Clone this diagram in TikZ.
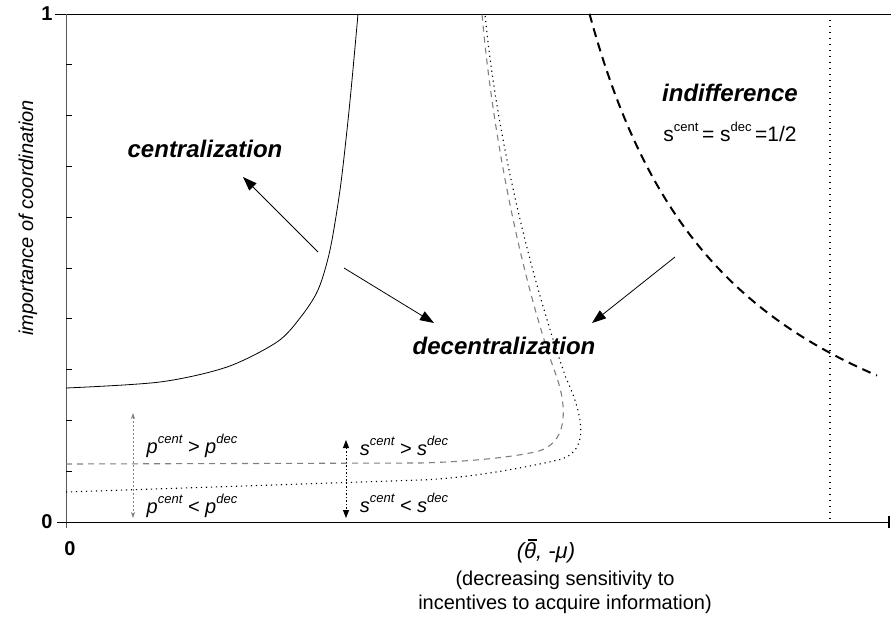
\documentclass[tikz,border=0pt]{standalone}
\usepackage{fontspec}
\setmainfont{Liberation Sans}
\usetikzlibrary{arrows.meta}

% superscript helper and a barred theta
\newcommand\supx[1]{\raisebox{0.5em}{\fontsize{13}{13}\selectfont #1}}
\newcommand\barth{\rlap{\hspace{0.16em}\rule[0.8em]{0.42em}{0.07em}}θ}

\tikzset{
  region/.style={font=\fontsize{24}{28}\selectfont\bfseries\itshape},
  ineq/.style={font=\fontsize{20}{24}\selectfont\itshape},
  axnum/.style={font=\fontsize{20}{24}\selectfont\bfseries},
  note/.style={font=\fontsize{20}{24}\selectfont},
  pointer/.style={-{Triangle[length=14pt,width=10pt]}, line width=0.8pt},
  boundary/.style={line width=0.8pt},
  pband/.style={gray, line width=1.1pt, dash pattern=on 6pt off 5pt},
  sband/.style={line width=1.1pt, dash pattern=on 1.2pt off 3.8pt},
}

\begin{document}
\begin{tikzpicture}[x=1pt,y=-1pt]
\useasboundingbox (0,0) rectangle (891,624);

% frame and axes
\draw[line width=1pt] (55,14) -- (891,14);
\draw[line width=1pt, gray!70!black] (66,14) -- (66,528);
\draw[line width=1pt] (57,522) -- (889,522);
\draw[line width=1.6pt] (889,516) -- (889,528);
\foreach \k in {1,...,9}
  \draw[line width=0.7pt] (66,{14+50.8*\k}) -- (72,{14+50.8*\k});

\node[axnum] (one) at (47,14) {1};
\node[axnum] (zeroy) at (47,522) {0};
\node[axnum] (zerox) at (70,549) {0};
\node[font=\fontsize{20}{24}\selectfont\itshape, rotate=90] (ylab) at (28,218) {importance of coordination};

% centralization boundary
\draw[boundary] plot[smooth] coordinates {(66,388) (160,382) (227,367) (277,342) (300,318) (318,290) (330,250) (340,190) (347,130) (352,80) (358,14)};

% p^cent = p^dec
\draw[pband] (66,464) -- (420,463)
  .. controls (460,462) and (505,458.4) .. (535,452)
  .. controls (568,445) and (568,409) .. (556,375)
  .. controls (525,290) and (494,150) .. (482,14);

% s^cent = s^dec
\draw[sband] (66,492) -- (420,480)
  .. controls (470,478.3) and (530,466.5) .. (558,460)
  .. controls (592,452) and (582,413) .. (566,378)
  .. controls (535,290) and (498,150) .. (485,14);

% indifference boundary
\draw[line width=2pt, dash pattern=on 9pt off 6pt] plot[domain=589.5:877, samples=80] (\x, {522-508*(-0.082+161.8/(\x-440))});

% vertical dotted limit
\draw[line width=1.3pt, dash pattern=on 1.3pt off 4.7pt] (830,14) -- (830,522);

% region labels
\node[region] (cent) at (205,149) {centralization};
\node[region] (dec) at (504,346) {decentralization};
\node[region] (ind) at (730,93) {indifference};
\node[font=\fontsize{21}{25}\selectfont] (half) at (730,132) {s\supx{cent}\,= s\supx{dec}\,=1/2};

% pointers
\coordinate (ctail) at (318,252);
\coordinate (ctip) at (243,177);
\coordinate (ltail) at (344,268);
\coordinate (ltip) at (434,323);
\coordinate (rtail) at (675,257);
\coordinate (rtip) at (592,323);
\draw[pointer] (ctail) -- (ctip);
\draw[pointer] (ltail) -- (ltip);
\draw[pointer] (rtail) -- (rtip);

% inequality labels and their double arrows
\node[ineq] (pg) at (192,446) {p\supx{cent} > p\supx{dec}};
\node[ineq] (pl) at (192,506) {p\supx{cent} < p\supx{dec}};
\node[ineq] (sg) at (404,446) {s\supx{cent} > s\supx{dec}};
\node[ineq] (sl) at (404,503) {s\supx{cent} < s\supx{dec}};

\coordinate (pup) at (133,413);
\coordinate (pdn) at (133,518);
\coordinate (sup) at (346,440);
\coordinate (sdn) at (346,518);
\draw[gray, line width=0.8pt, dash pattern=on 2pt off 2pt, {Stealth[length=6pt,width=4pt]}-{Stealth[length=6pt,width=4pt]}] (pup) -- (pdn);
\draw[line width=1pt, dash pattern=on 1.5pt off 2pt, {Triangle[length=8pt,width=6pt]}-{Triangle[length=8pt,width=6pt]}] (sup) -- (sdn);

% horizontal axis caption
\node[font=\fontsize{22}{26}\selectfont\itshape] (var) at (546,551) {(\barth, -μ)};
\node[note] (dsens) at (565,580) {(decreasing sensitivity to};
\node[note] (dinc) at (565,604) {incentives to acquire information)};
\end{tikzpicture}
\end{document}
